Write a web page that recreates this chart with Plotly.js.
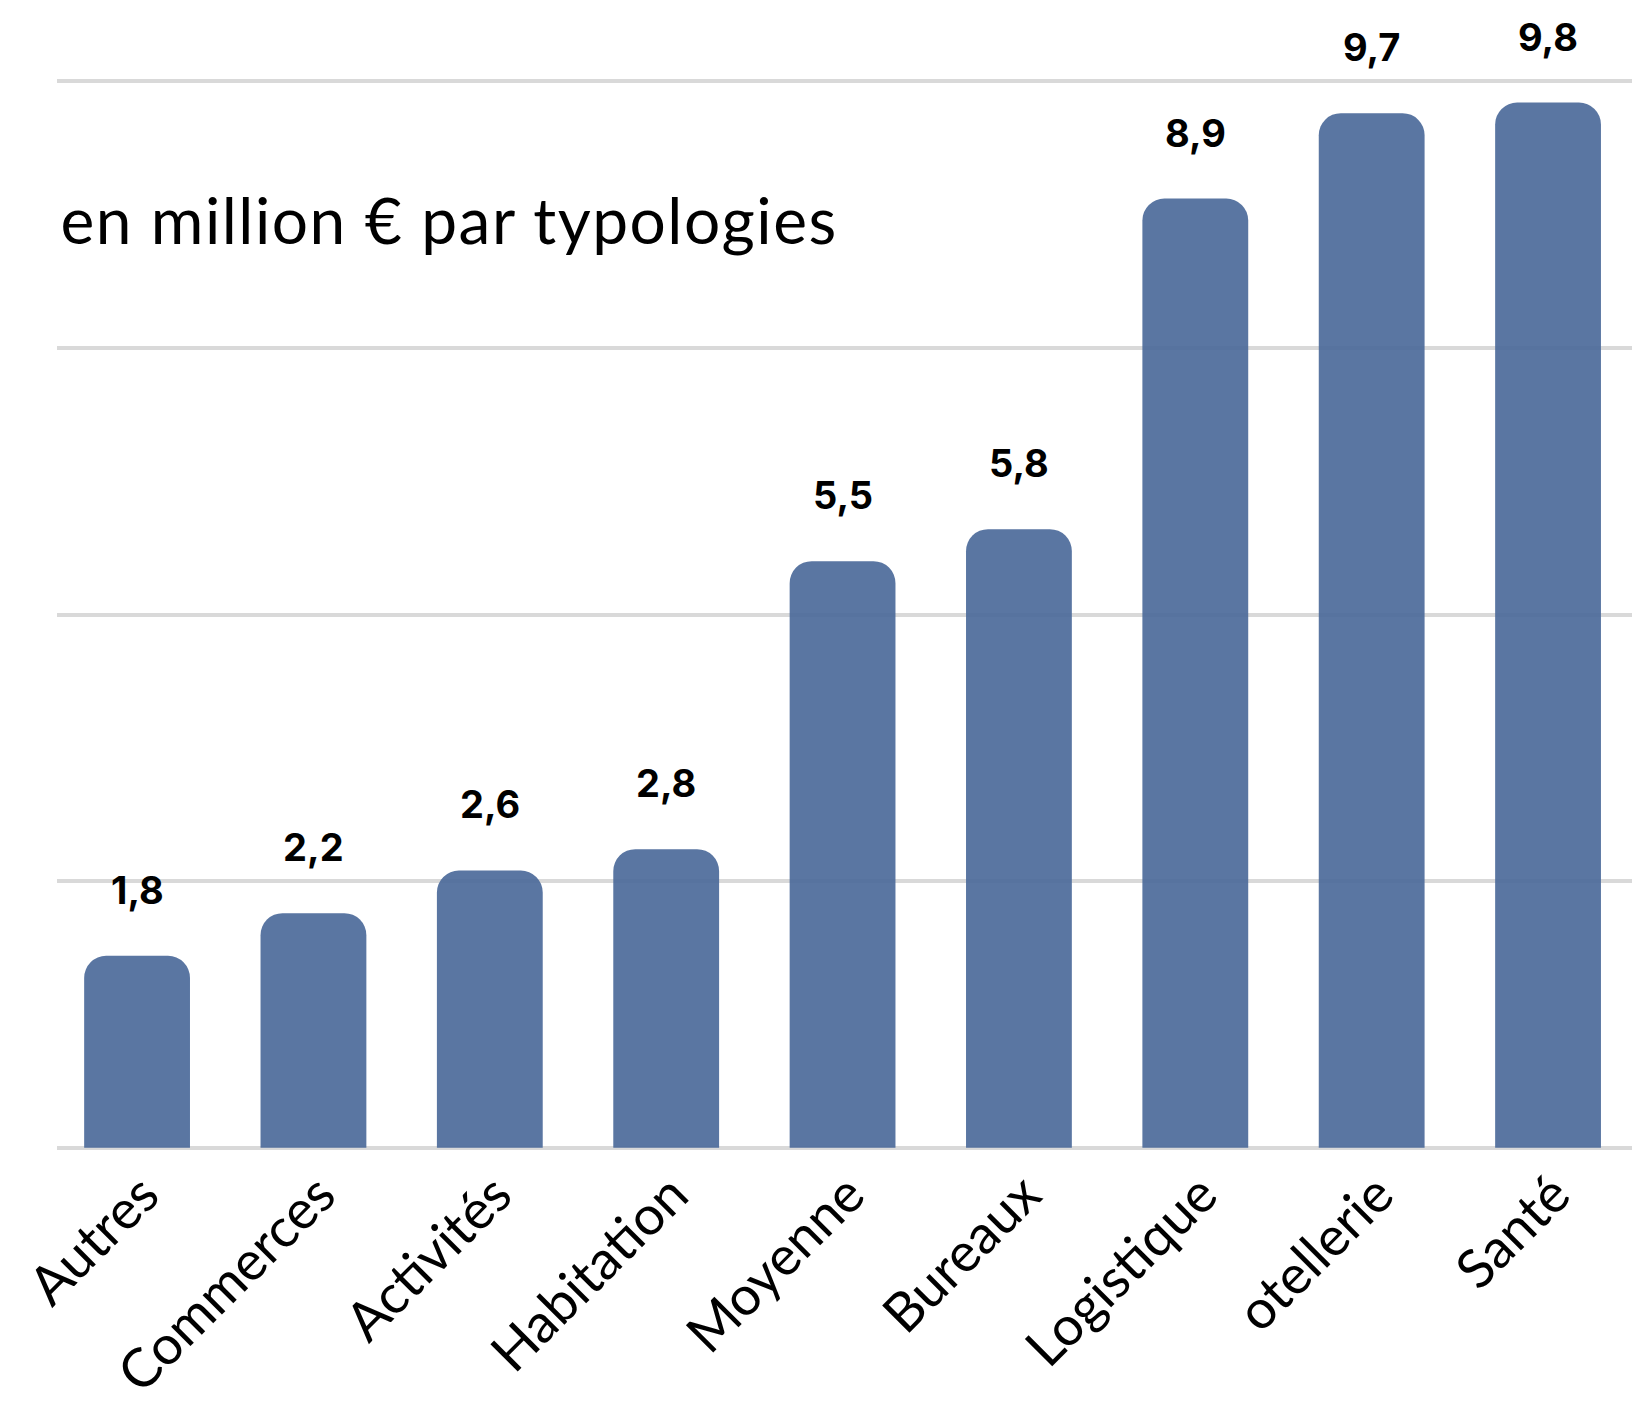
<!DOCTYPE html>
<html>
<head>
<meta charset="utf-8">
<script src="https://cdn.plot.ly/plotly-3.0.1.min.js"></script>
<style>html,body{margin:0;padding:0;background:#fff;}#chart{width:1632px;height:1410px;}
#chart .gtitle{letter-spacing:1.5px;}
</style>
</head>
<body>
<div id="chart"></div>
<script>
const categories = ["Autres", "Commerces", "Activités", "Habitation", "Moyenne", "Bureaux", "Logistique", "otellerie", "Santé"];
const values = [1.8, 2.2, 2.6, 2.8, 5.5, 5.8, 8.9, 9.7, 9.8];
const valueLabels = values.map(v => v.toFixed(1).replace('.', ','));
const titleText = "en million € par typologies";

const trace = {
  type: 'bar',
  x: categories,
  y: values,
  marker: {color: 'rgb(76,106,154)', opacity: 0.92, cornerradius: 22},
  hoverinfo: 'none',
  cliponaxis: false
};

const annotations = categories.map((c, i) => ({
  x: c, y: values[i], xref: 'x', yref: 'y',
  text: valueLabels[i], showarrow: false,
  yanchor: 'bottom', xanchor: 'center', yshift: 41,
  font: {family: 'Inter, "Open Sans", sans-serif', size: 38, color: '#000', weight: 700}
}));

const layout = {
  width: 1632, height: 1410,
  margin: {l: 57, r: 0, t: 78, b: 259, pad: 0},
  paper_bgcolor: '#fff', plot_bgcolor: '#fff',
  showlegend: false,
  bargap: 0.4,
  title: {
    text: titleText, xref: 'container', yref: 'container',
    x: 0.037, xanchor: 'left', y: 1 - 222/1410, yanchor: 'middle',
    font: {family: 'Lato, sans-serif', size: 64, color: '#000'}
  },
  xaxis: {
    type: 'category', range: [-0.454, 8.476],
    tickangle: -45, showgrid: false, zeroline: false, showline: false,
    ticks: '', ticklabelshift: 6,
    tickfont: {family: 'Lato, sans-serif', size: 54, color: '#000'}
  },
  yaxis: {
    range: [-0.03, 10.03], tickvals: [0, 2.5, 5, 7.5, 10],
    showgrid: true, gridcolor: '#d9d9d9', gridwidth: 4,
    zeroline: false, showline: false, showticklabels: false, ticks: ''
  },
  annotations: annotations
};

Plotly.newPlot('chart', [trace], layout, {displayModeBar: false, staticPlot: true});
</script>
</body>
</html>
